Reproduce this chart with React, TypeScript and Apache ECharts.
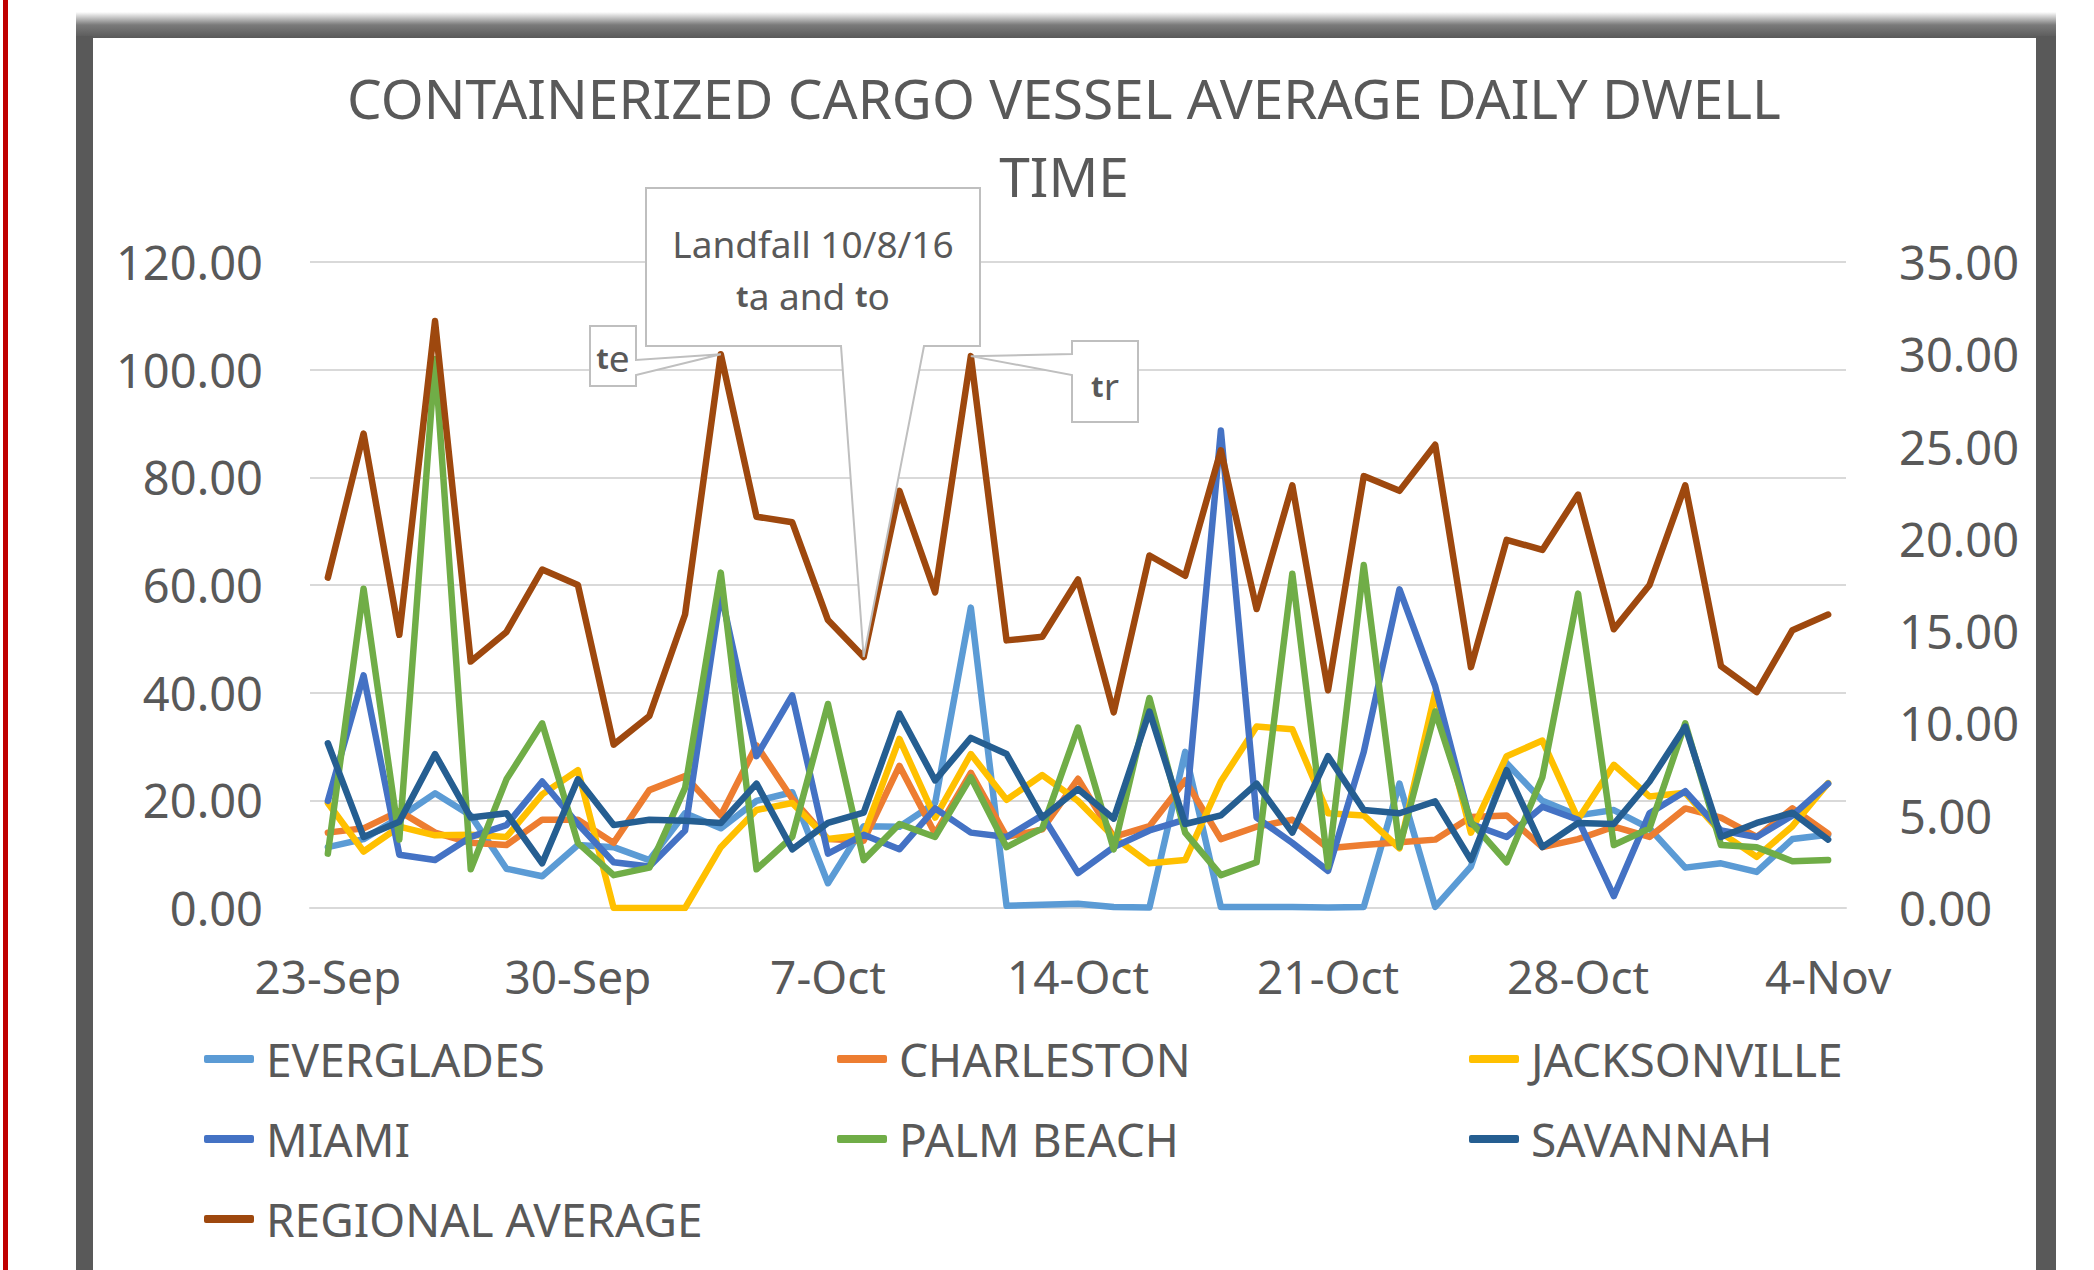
import React, { useEffect, useRef } from "react";
import * as echarts from "echarts";

const dates = [
  "23-Sep", "24-Sep", "25-Sep", "26-Sep", "27-Sep", "28-Sep", "29-Sep", "30-Sep",
  "1-Oct", "2-Oct", "3-Oct", "4-Oct", "5-Oct", "6-Oct", "7-Oct", "8-Oct", "9-Oct", "10-Oct",
  "11-Oct", "12-Oct", "13-Oct", "14-Oct", "15-Oct", "16-Oct", "17-Oct", "18-Oct", "19-Oct",
  "20-Oct", "21-Oct", "22-Oct", "23-Oct", "24-Oct", "25-Oct", "26-Oct", "27-Oct", "28-Oct",
  "29-Oct", "30-Oct", "31-Oct", "1-Nov", "2-Nov", "3-Nov", "4-Nov",
];

const everglades = [11.3, 12.8, 16.8, 21.3, 17.2, 7.3, 5.9, 11.7, 11.3, 8.9, 17.6, 14.8, 19.9, 21.5, 4.6, 15.2, 15.1, 19.5, 55.8, 0.4, 0.6, 0.8, 0.2, 0.1, 29.0, 0.2, 0.2, 0.2, 0.1, 0.2, 23.1, 0.2, 7.7, 26.9, 19.9, 17.2, 18.2, 14.8, 7.5, 8.3, 6.7, 12.8, 13.6];
const charleston = [14.0, 14.8, 18.0, 14.0, 12.1, 11.7, 16.4, 16.4, 12.1, 21.9, 24.5, 17.2, 30.2, 20.3, 12.8, 12.5, 26.4, 13.8, 25.1, 13.2, 14.6, 24.0, 13.2, 15.2, 23.7, 12.8, 15.1, 16.4, 11.1, 11.7, 12.2, 12.7, 16.9, 17.2, 11.3, 12.8, 15.1, 13.2, 18.5, 16.8, 13.2, 18.5, 13.8];
const jacksonville = [19.5, 10.5, 15.1, 13.5, 13.6, 13.2, 21.1, 25.6, 0, 0, 0, 11.3, 18.2, 19.5, 12.8, 13.6, 31.4, 16.8, 28.6, 20.1, 24.7, 19.9, 13.2, 8.3, 8.9, 23.5, 33.7, 33.2, 17.6, 17.2, 11.1, 40.0, 14.0, 28.2, 31.1, 16.5, 26.6, 20.7, 21.4, 14.0, 9.5, 15.2, 23.2];
const miami = [19.9, 43.2, 9.9, 8.9, 13.2, 15.4, 23.5, 15.6, 8.5, 7.7, 14.4, 58.6, 28.2, 39.5, 10.1, 13.6, 10.9, 18.5, 14.0, 13.2, 17.2, 6.5, 11.3, 14.4, 16.4, 88.7, 16.8, 12.1, 6.9, 29.0, 59.2, 41.2, 15.6, 13.2, 18.8, 16.4, 2.2, 17.6, 21.7, 14.4, 13.2, 17.2, 23.1];
const palmBeach = [10.1, 59.3, 12.7, 102, 7.2, 23.9, 34.3, 12.1, 6.1, 7.5, 22.3, 62.3, 7.2, 13.2, 37.9, 8.9, 15.6, 13.2, 24.3, 11.3, 14.8, 33.5, 10.9, 39.0, 14.0, 6.1, 8.5, 62.1, 7.7, 63.7, 11.3, 36.5, 16.0, 8.5, 24.3, 58.4, 11.7, 14.8, 34.3, 11.7, 11.3, 8.7, 8.9];
const savannah = [30.6, 13.2, 16.0, 28.6, 16.8, 17.6, 8.3, 23.9, 15.4, 16.4, 16.2, 15.8, 23.1, 10.9, 15.8, 17.7, 36.1, 23.7, 31.6, 28.6, 16.8, 22.1, 16.6, 36.5, 15.6, 17.2, 23.1, 14.0, 28.2, 18.2, 17.6, 19.8, 8.9, 25.6, 11.3, 15.8, 15.6, 23.5, 33.7, 13.2, 15.8, 17.7, 12.7];
const regionalAverage = [17.9, 25.7, 14.8, 31.8, 13.35, 14.96, 18.34, 17.5, 8.85, 10.4, 15.9, 30.0, 21.2, 20.9, 15.6, 13.6, 22.6, 17.1, 29.9, 14.5, 14.7, 17.8, 10.6, 19.1, 18.0, 24.8, 16.2, 22.9, 11.8, 23.4, 22.6, 25.1, 13.05, 19.95, 19.4, 22.4, 15.1, 17.5, 22.9, 13.1, 11.7, 15.05, 15.9];

const leftTicks = { min: 0, max: 120, interval: 20 };
const rightTicks = { min: 0, max: 35, interval: 5 };

const titleLines = ["CONTAINERIZED CARGO VESSEL AVERAGE DAILY DWELL", "TIME"];

const FONT = "'Noto Sans', 'Open Sans', sans-serif";
const TXT = "#595959";

export default function App() {
  const ref = useRef<HTMLDivElement>(null);

  useEffect(() => {
    const el = ref.current!;
    const chart = echarts.init(el, undefined, { renderer: "svg" });

    const mk = (name: string, data: number[], color: string, yAxisIndex = 0) => ({
      name,
      type: "line",
      data,
      yAxisIndex,
      showSymbol: false,
      symbol: "none",
      lineStyle: { width: 6.5, color, cap: "round", join: "round" },
      itemStyle: { color },
      emphasis: { disabled: true },
    });

    const series = [
      mk("EVERGLADES", everglades, "#5B9BD5"),
      mk("CHARLESTON", charleston, "#ED7D31"),
      mk("JACKSONVILLE", jacksonville, "#FFC000"),
      mk("MIAMI", miami, "#4472C4"),
      mk("PALM BEACH", palmBeach, "#70AD47"),
      mk("SAVANNAH", savannah, "#255E91"),
      mk("REGIONAL AVERAGE", regionalAverage, "#9E480E", 1),
    ];

    const legendCommon = {
      orient: "vertical",
      top: 1031,
      padding: 0,
      itemWidth: 50,
      itemHeight: 8,
      icon: "roundRect",
      itemGap: 24,
      selectedMode: false,
      textStyle: { fontFamily: FONT, fontSize: 46, color: TXT, lineHeight: 56, padding: [0, 0, 0, 7] },
    };

    const fmt = (v: number) => v.toFixed(2);

    const baseGraphic: any[] = [
      { id: "red", type: "rect", shape: { x: 3, y: 0, width: 5, height: 1270 }, style: { fill: "#C00000" }, z: 100 },
      {
        id: "topbar", type: "rect", shape: { x: 76, y: 12, width: 1980, height: 26 },
        style: {
          fill: new echarts.graphic.LinearGradient(0, 0, 0, 1, [
            { offset: 0, color: "rgba(89,89,89,0)" },
            { offset: 0.5, color: "rgba(89,89,89,0.8)" },
            { offset: 1, color: "#595959" },
          ]),
        },
        z: 100,
      },
      { id: "leftbar", type: "rect", shape: { x: 76, y: 36, width: 17, height: 1240 }, style: { fill: "#595959" }, z: 100 },
      { id: "rightbar", type: "rect", shape: { x: 2036, y: 36, width: 20, height: 1240 }, style: { fill: "#595959" }, z: 100 },
      {
        id: "t1", type: "text", x: 1064, y: 97,
        style: { text: titleLines[0], fontFamily: FONT, fontSize: 55, fill: TXT, align: "center", verticalAlign: "middle" },
        z: 100,
      },
      {
        id: "t2", type: "text", x: 1064, y: 175,
        style: { text: titleLines[1], fontFamily: FONT, fontSize: 55, fill: TXT, align: "center", verticalAlign: "middle" },
        z: 100,
      },
    ];

    const option: any = {
      animation: false,
      backgroundColor: "#ffffff",
      grid: { left: 310, right: 248, top: 262, bottom: 362, containLabel: false },
      xAxis: {
        type: "category",
        data: dates,
        boundaryGap: true,
        axisLine: { show: true, lineStyle: { color: "#D9D9D9", width: 2 } },
        axisTick: { show: false },
        axisLabel: { interval: 6, margin: 45, fontFamily: FONT, fontSize: 46, color: TXT },
        splitLine: { show: false },
      },
      yAxis: [
        {
          type: "value", ...leftTicks, position: "left",
          axisLine: { show: false }, axisTick: { show: false },
          splitLine: { show: true, lineStyle: { color: "#D9D9D9", width: 2 } },
          axisLabel: { formatter: fmt, margin: 47, fontFamily: FONT, fontSize: 47, color: TXT },
        },
        {
          type: "value", ...rightTicks, position: "right",
          axisLine: { show: false }, axisTick: { show: false },
          splitLine: { show: false },
          axisLabel: { formatter: fmt, margin: 53, fontFamily: FONT, fontSize: 47, color: TXT },
        },
      ],
      legend: [
        { ...legendCommon, left: 204, data: ["EVERGLADES", "MIAMI", "REGIONAL AVERAGE"] },
        { ...legendCommon, left: 837, data: ["CHARLESTON", "PALM BEACH"] },
        { ...legendCommon, left: 1469, data: ["JACKSONVILLE", "SAVANNAH"] },
      ],
      series,
      graphic: baseGraphic,
    };

    chart.setOption(option);

    const tip = (i: number) => chart.convertToPixel({ seriesIndex: 6 }, [i, regionalAverage[i]]) as number[];
    const tE = tip(11);
    const tL = tip(15);
    const tR = tip(18);

    const boxStyle = { fill: "#ffffff", stroke: "#BFBFBF", lineWidth: 2 };
    const rich = { s: { fontFamily: FONT, fontSize: 29, fontWeight: "bold", fill: TXT } };
    const txt = (id: string, x: number, y: number, text: string) => ({
      id, type: "text", x, y, z: 101,
      style: { text, rich, fontFamily: FONT, fontSize: 37, fill: TXT, align: "center", verticalAlign: "middle" },
    });

    const callouts: any[] = [
      {
        id: "cL", type: "polygon", z: 100,
        shape: { points: [[646, 188], [980, 188], [980, 346], [924, 346], tL, [841, 346], [646, 346]] },
        style: boxStyle,
      },
      txt("cLt1", 813, 243, "Landfall 10/8/16"),
      txt("cLt2", 813, 295, "{s|t}a and {s|t}o"),
      {
        id: "cE", type: "polygon", z: 100,
        shape: { points: [[590, 326], [636, 326], [636, 360], tE, [636, 375], [636, 386], [590, 386]] },
        style: boxStyle,
      },
      txt("cEt", 613, 357, "{s|t}e"),
      {
        id: "cR", type: "polygon", z: 100,
        shape: { points: [[1072, 341], [1138, 341], [1138, 422], [1072, 422], [1072, 375], tR, [1072, 354]] },
        style: boxStyle,
      },
      txt("cRt", 1105, 385, "{s|t}r"),
    ];

    chart.setOption({ graphic: [...baseGraphic, ...callouts] });

    return () => {
      chart.dispose();
    };
  }, []);

  return (
    <div style={{ position: "absolute", left: 0, top: 0, width: 2094, height: 1270, background: "#fff", overflow: "hidden" }}>
      <div ref={ref} style={{ width: 2094, height: 1270 }} />
    </div>
  );
}
